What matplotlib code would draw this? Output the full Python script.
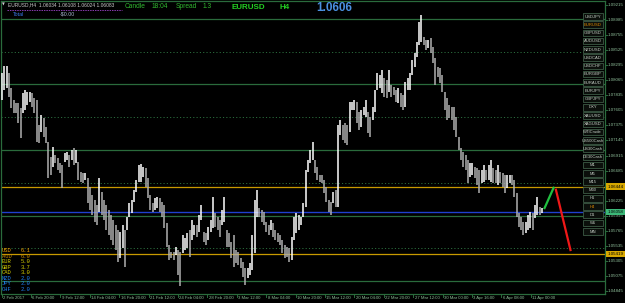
import matplotlib
matplotlib.use("Agg")
import matplotlib.pyplot as plt
from matplotlib.patches import Rectangle

# ==========================================================
# DATA  (EURUSD H4)
# ==========================================================
bar_high = [
    1.0817, 1.0828, 1.0828, 1.0817, 1.0795, 1.0776, 1.0772, 1.0772, 1.0764, 1.0787,
    1.0791, 1.0788, 1.0788, 1.0787, 1.0779, 1.0776, 1.0738, 1.0753, 1.0749, 1.0735,
    1.0712, 1.0689, 1.0705, 1.0692, 1.0688, 1.0680, 1.0677, 1.0695, 1.0697, 1.0692,
    1.0700, 1.0703, 1.0700, 1.0682, 1.0667, 1.0665, 1.0665, 1.0657, 1.0644, 1.0631,
    1.0624, 1.0616, 1.0657, 1.0636, 1.0624, 1.0616, 1.0609, 1.0601, 1.0593, 1.0586,
    1.0578, 1.0575, 1.0586, 1.0578, 1.0598, 1.0619, 1.0624, 1.0639, 1.0654, 1.0677,
    1.0679, 1.0674, 1.0673, 1.0657, 1.0631, 1.0619, 1.0627, 1.0628, 1.0627, 1.0621,
    1.0616, 1.0589, 1.0555, 1.0545, 1.0545, 1.0552, 1.0548, 1.0545, 1.0571, 1.0566,
    1.0574, 1.0578, 1.0593, 1.0586, 1.0586, 1.0601, 1.0616, 1.0575, 1.0574, 1.0583,
    1.0593, 1.0628, 1.0604, 1.0598, 1.0593, 1.0609, 1.0628, 1.0578, 1.0574, 1.0560,
    1.0571, 1.0548, 1.0545, 1.0536, 1.0529, 1.0520, 1.0520, 1.0528, 1.0571, 1.0624,
    1.0639, 1.0612, 1.0609, 1.0606, 1.0590, 1.0586, 1.0593, 1.0589, 1.0578, 1.0574,
    1.0571, 1.0563, 1.0555, 1.0552, 1.0551, 1.0568, 1.0598, 1.0604, 1.0601, 1.0598,
    1.0619, 1.0670, 1.0685, 1.0700, 1.0712, 1.0685, 1.0674, 1.0662, 1.0662, 1.0654,
    1.0644, 1.0624, 1.0621, 1.0636, 1.0639, 1.0738, 1.0746, 1.0738, 1.0741, 1.0738,
    1.0773, 1.0773, 1.0776, 1.0773, 1.0758, 1.0761, 1.0766, 1.0776, 1.0758, 1.0750,
    1.0766, 1.0791, 1.0817, 1.0814, 1.0822, 1.0810, 1.0807, 1.0822, 1.0799, 1.0796,
    1.0791, 1.0795, 1.0787, 1.0784, 1.0804, 1.0810, 1.0817, 1.0837, 1.0848, 1.0865,
    1.0895, 1.0906, 1.0872, 1.0868, 1.0868, 1.0871, 1.0857, 1.0840, 1.0826, 1.0825,
    1.0814, 1.0788, 1.0779, 1.0769, 1.0766, 1.0766, 1.0750, 1.0720, 1.0703, 1.0697,
    1.0692, 1.0685, 1.0680, 1.0680, 1.0674, 1.0673, 1.0670, 1.0670, 1.0677, 1.0670,
    1.0677, 1.0685, 1.0673, 1.0670, 1.0677, 1.0667, 1.0665, 1.0662, 1.0662, 1.0662,
    1.0662, 1.0654, 1.0634, 1.0604, 1.0598, 1.0590, 1.0590, 1.0601, 1.0606, 1.0604,
    1.0616, 1.0628, 1.0613, 1.0612,
]
bar_low = [
    1.0776, 1.0791, 1.0795, 1.0781, 1.0764, 1.0756, 1.0756, 1.0741, 1.0718, 1.0756,
    1.0761, 1.0769, 1.0773, 1.0766, 1.0756, 1.0712, 1.0711, 1.0727, 1.0720, 1.0711,
    1.0657, 1.0662, 1.0674, 1.0680, 1.0670, 1.0665, 1.0642, 1.0682, 1.0685, 1.0674,
    1.0685, 1.0677, 1.0680, 1.0654, 1.0651, 1.0650, 1.0654, 1.0619, 1.0609, 1.0601,
    1.0590, 1.0586, 1.0606, 1.0601, 1.0593, 1.0578, 1.0571, 1.0563, 1.0555, 1.0548,
    1.0529, 1.0536, 1.0551, 1.0522, 1.0578, 1.0598, 1.0604, 1.0621, 1.0636, 1.0651,
    1.0651, 1.0659, 1.0644, 1.0627, 1.0609, 1.0606, 1.0609, 1.0612, 1.0606, 1.0598,
    1.0581, 1.0552, 1.0532, 1.0536, 1.0532, 1.0540, 1.0510, 1.0493, 1.0543, 1.0548,
    1.0551, 1.0537, 1.0563, 1.0571, 1.0568, 1.0575, 1.0593, 1.0560, 1.0555, 1.0563,
    1.0575, 1.0581, 1.0583, 1.0578, 1.0568, 1.0586, 1.0590, 1.0552, 1.0552, 1.0536,
    1.0522, 1.0528, 1.0525, 1.0520, 1.0507, 1.0494, 1.0505, 1.0510, 1.0517, 1.0543,
    1.0598, 1.0598, 1.0590, 1.0586, 1.0575, 1.0571, 1.0578, 1.0568, 1.0563, 1.0560,
    1.0555, 1.0543, 1.0536, 1.0537, 1.0529, 1.0532, 1.0563, 1.0574, 1.0578, 1.0586,
    1.0598, 1.0613, 1.0667, 1.0680, 1.0685, 1.0665, 1.0654, 1.0651, 1.0650, 1.0634,
    1.0621, 1.0606, 1.0601, 1.0619, 1.0613, 1.0613, 1.0723, 1.0715, 1.0711, 1.0708,
    1.0727, 1.0761, 1.0761, 1.0741, 1.0730, 1.0735, 1.0753, 1.0750, 1.0726, 1.0720,
    1.0746, 1.0758, 1.0791, 1.0795, 1.0787, 1.0781, 1.0779, 1.0788, 1.0781, 1.0784,
    1.0773, 1.0772, 1.0766, 1.0761, 1.0766, 1.0791, 1.0791, 1.0814, 1.0826, 1.0842,
    1.0860, 1.0865, 1.0860, 1.0852, 1.0855, 1.0848, 1.0833, 1.0799, 1.0811, 1.0802,
    1.0788, 1.0761, 1.0746, 1.0749, 1.0746, 1.0730, 1.0720, 1.0700, 1.0685, 1.0674,
    1.0670, 1.0650, 1.0659, 1.0662, 1.0657, 1.0647, 1.0634, 1.0650, 1.0651, 1.0654,
    1.0654, 1.0651, 1.0650, 1.0650, 1.0647, 1.0650, 1.0644, 1.0634, 1.0642, 1.0650,
    1.0647, 1.0628, 1.0598, 1.0583, 1.0578, 1.0571, 1.0574, 1.0578, 1.0581, 1.0578,
    1.0596, 1.0601, 1.0601, 1.0604,
]

# round-number grid levels
solid_levels = [1.0500, 1.0600, 1.0700, 1.0800, 1.0900]
dotted_levels = [1.0550, 1.0650, 1.0750, 1.0850]
# user horizontal lines and bid line
gold_levels = [1.06444, 1.05419]
bid_price = 1.06058

# projection drawn after the last bar (bars after last, price)
proj_up_x = [0.9, 5.2]
proj_up_y = [1.0610, 1.0644]
proj_dn_x = [5.9, 12.4]
proj_dn_y = [1.0641, 1.0546]

price_labels = ["1.09215", "1.08985", "1.08755", "1.08525", "1.08295", "1.08065",
                "1.07835", "1.07605", "1.07375", "1.07145", "1.06915", "1.06685",
                "1.06455", "1.06225", "1.05995", "1.05765", "1.05535", "1.05305",
                "1.05075", "1.04845"]

date_labels = ["2 Feb 2017", "6 Feb 20:00", "9 Feb 12:00", "14 Feb 04:00",
               "16 Feb 20:00", "21 Feb 12:00", "24 Feb 04:00", "28 Feb 20:00",
               "3 Mar 12:00", "8 Mar 04:00", "10 Mar 20:00", "15 Mar 12:00",
               "20 Mar 04:00", "22 Mar 20:00", "27 Mar 12:00", "30 Mar 00:00",
               "3 Apr 16:00", "6 Apr 08:00", "11 Apr 00:00"]

symbols = ["USDJPY", "EURUSD", "GBPUSD", "AUDUSD", "NZDUSD", "USDCAD", "USDCHF",
           "EURGBP", "EURAUD", "EURJPY", "GBPJPY", "DXY", "XAUUSD", "XAGUSD",
           "WTICrude", "US500Cash", "US30Cash", "DE30Cash",
           "M1", "M5", "M15", "M30", "H1", "H4", "D1", "W1", "MN"]
active_buttons = ["EURUSD", "H4"]

ccy_names = ["USD", "AUD", "EUR", "GBP", "CAD", "NZD", "JPY", "CHF"]
ccy_values = [6.1, 6.0, 5.0, 3.7, 3.0, 2.0, 2.0, 2.0]
ccy_colors = ["#f0a000", "#c88a00", "#d8d000", "#d8d000", "#d8d000",
              "#2080f0", "#2080f0", "#2080f0"]

# ==========================================================
# STYLE
# ==========================================================
W, H = 625, 303
BG = "#000000"
GRID = "#2a6b3c"
AXTXT = "#8fbf9a"
FONT = "Liberation Sans"

fig = plt.figure(figsize=(W / 100, H / 100), dpi=100, facecolor=BG)

# plot area in pixel terms: x 1..605, y 1..294
PX_L, PX_R, PX_T, PX_B = 1, 605, 1, 294
ax = fig.add_axes([PX_L / W, (H - PX_B) / H, (PX_R - PX_L) / W, (PX_B - PX_T) / H])
ax.set_facecolor(BG)

n = len(bar_high)
first_px, last_px = 2.0, 542.0
step = (last_px - first_px) / (n - 1)
ax.set_xlim((PX_L - first_px) / step, (PX_R - first_px) / step)

# price scale: y pixel <-> price
P0, PSTEP = 1.09285, 0.00015232


def price2px(p):
    return (P0 - p) / PSTEP


ax.set_ylim(P0 - PSTEP * PX_B, P0 - PSTEP * PX_T)

# ==========================================================
# LEVELS
# ==========================================================
for lv in solid_levels:
    ax.axhline(lv, color=GRID, lw=0.9, zorder=1)
for lv in dotted_levels:
    ax.axhline(lv, color=GRID, lw=0.7, ls=(0, (1.2, 2.2)), zorder=1)
for lv in gold_levels:
    ax.axhline(lv, color="#c89a00", lw=0.9, zorder=1)
ax.axhline(bid_price, color="#2040d0", lw=1.0, zorder=1)

# ==========================================================
# BARS
# ==========================================================
xs = list(range(n))
cols = []
for i in range(n):
    mid = (bar_high[i] + bar_low[i]) / 2
    prev = (bar_high[i - 1] + bar_low[i - 1]) / 2 if i else mid
    cols.append("#ffffff" if mid >= prev else "#b0b0b0")
ax.vlines(xs, bar_low, bar_high, colors=cols, lw=1.1, zorder=3)

# projection lines
ax.plot([n - 1 + v for v in proj_up_x], proj_up_y, color="#20c040", lw=1.6,
        solid_capstyle="butt", zorder=4)
ax.plot([n - 1 + v for v in proj_dn_x], proj_dn_y, color="#f01818", lw=1.6,
        solid_capstyle="butt", zorder=4)

# ==========================================================
# AXES FRAME
# ==========================================================
for s in ax.spines.values():
    s.set_color(GRID)
    s.set_linewidth(0.9)
ax.set_xticks([])
ax.set_yticks([])

# overlay in pixel coordinates for texts and panels
ov = fig.add_axes([0, 0, 1, 1], zorder=5)
ov.set_xlim(0, W)
ov.set_ylim(H, 0)
ov.axis("off")
ov.patch.set_alpha(0)

# price axis labels
for lab in price_labels:
    ypx = price2px(float(lab))
    ov.plot([PX_R, PX_R + 2], [ypx, ypx], color=GRID, lw=0.7)
    ov.text(PX_R + 2.5, ypx, lab, color=AXTXT, fontsize=3.2, family=FONT,
            va="center", ha="left")


def price_box(price, face, label):
    ypx = price2px(price)
    ov.add_patch(Rectangle((PX_R + 0.5, ypx - 3.2), 19.5, 6.4, facecolor=face,
                           edgecolor="none", zorder=6))
    ov.text(PX_R + 2.5, ypx, label, color="#000000", fontsize=3.2, family=FONT,
            va="center", ha="left", zorder=7)


price_box(gold_levels[0], "#d8a800", "1.06444")
price_box(bid_price, "#3cb878", "1.06058")
price_box(gold_levels[1], "#d8a800", "1.05419")

# date axis
for k, lab in enumerate(date_labels):
    xpx = 1.5 + k * 29.4
    ov.plot([xpx, xpx], [PX_B, PX_B + 2.5], color=GRID, lw=0.7)
    ov.text(xpx + 1.5, 298.2, lab, color=AXTXT, fontsize=3.1, family=FONT,
            va="center", ha="left")

# right symbol / timeframe buttons
for k, name in enumerate(symbols):
    yc = 16.3 + 8.27 * k
    ov.add_patch(Rectangle((582.5, yc - 3.3), 20.5, 6.6, facecolor="#0b0f0b",
                           edgecolor="#3d5a45", lw=0.6, zorder=6))
    col = "#e08a00" if name in active_buttons else "#c8d0c8"
    ov.text(592.7, yc + 0.2, name, color=col, fontsize=3.0, family=FONT,
            va="center", ha="center", zorder=7)

# header
ov.text(2, 5, "\u25bc", color="#d0d0d0", fontsize=2.6, family="DejaVu Sans",
        va="center", ha="left")
ov.text(8, 5, "EURUSD,H4  1.06034 1.06108 1.06024 1.06083", color="#c8c8c8",
        fontsize=3.5, family=FONT, va="center", ha="left")
ov.plot([7, 122], [9.5, 9.5], color="#8a3ab0", lw=0.7, ls=(0, (1.5, 1)))
ov.text(13, 14.2, "Total", color="#3a78e8", fontsize=3.8, family=FONT,
        va="center", ha="left")
ov.text(60, 14.2, "-$0.00", color="#a8b8d0", fontsize=3.8, family=FONT,
        va="center", ha="left")

hdr_green = "#30b830"
for txt, xp in [("Candle", 125), ("18:04", 152), ("Spread", 176), ("1.3", 203)]:
    ov.text(xp, 6.8, txt, color=hdr_green, fontsize=4.8, family=FONT,
            va="center", ha="left")
for txt, xp in [("EURUSD", 232), ("H4", 280)]:
    ov.text(xp, 7.6, txt, color="#22d022", fontsize=5.8, family=FONT,
            weight="bold", va="center", ha="left")
ov.text(316, 8.0, "1.0606", color="#4a90e0", fontsize=8.5, family=FONT,
        weight="bold", va="center", ha="left")

# currency strength block
for k, (nm, v, c) in enumerate(zip(ccy_names, ccy_values, ccy_colors)):
    yc = 250.8 + 5.47 * k
    ov.text(2, yc, nm, color=c, fontsize=4.0, family="Liberation Mono",
            va="center", ha="left")
    ov.text(21, yc, f"{v:.1f}", color=c, fontsize=4.0, family="Liberation Mono",
            va="center", ha="left")

fig.savefig("out.png", dpi=100, facecolor=BG)
